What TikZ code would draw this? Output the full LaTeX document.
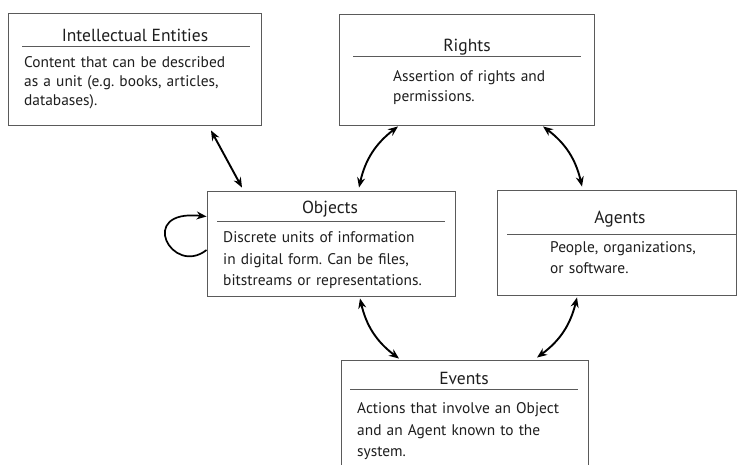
\documentclass[tikz,border=0pt]{standalone}
\usepackage{fontspec}
\setmainfont{PT Sans}
\usetikzlibrary{arrows.meta,calc}
\definecolor{boxc}{HTML}{5A5A5A}
\definecolor{txtc}{HTML}{1E1E1E}
\frenchspacing
\tikzset{
  box/.style={draw=boxc, line width=0.9pt, fill=white, rectangle, inner sep=0pt},
  ttl/.style={anchor=base, inner sep=0pt, text=txtc, font=\fontsize{17.5}{20}\selectfont},
  body/.style={anchor=base west, inner sep=0pt, text=txtc, align=left, text width=240pt},
  sep/.style={draw=boxc, line width=1pt},
  link/.style={line width=1.9pt, {Stealth[length=10pt,width=8pt]}-{Stealth[length=10pt,width=8pt]}},
  loop/.style={line width=1.7pt, -{Stealth[length=10pt,width=8pt]}}
}
\begin{document}
\begin{tikzpicture}[x=1pt,y=1pt]
\useasboundingbox (0,0) rectangle (738,465);
\clip (0,0) rectangle (738,465);
% boxes
\node[box, minimum width=253pt, minimum height=112pt] (ie) at (134.5,396) {};
\node[box, minimum width=255pt, minimum height=111pt] (ri) at (466.5,395.5) {};
\node[box, minimum width=248pt, minimum height=105pt] (ob) at (331,221.5) {};
\node[box, minimum width=239pt, minimum height=105pt] (ag) at (616.5,222.5) {};
\node[box, minimum width=247pt, minimum height=130pt] (ev) at (464.5,40) {};
% titles
\node[ttl] (ieT) at (135,423) {Intellectual Entities};
\node[ttl] (riT) at (467,413) {Rights};
\node[ttl] (obT) at (330,251) {Objects};
\node[ttl] (agT) at (620,241) {Agents};
\node[ttl] (evT) at (464,80) {Events};
% separators
\coordinate (ieL1) at (22,418); \coordinate (ieL2) at (250,418);
\coordinate (riL1) at (353,408); \coordinate (riL2) at (581,408);
\coordinate (obL1) at (217,243); \coordinate (obL2) at (445,243);
\coordinate (agL1) at (507,230); \coordinate (agL2) at (736,230);
\coordinate (evL1) at (350,75); \coordinate (evL2) at (578,75);
\draw[sep] (ieL1) -- (ieL2);
\draw[sep] (riL1) -- (riL2);
\draw[sep] (obL1) -- (obL2);
\draw[sep] (agL1) -- (agL2);
\draw[sep] (evL1) -- (evL2);
% bodies
\node[body, font=\fontsize{15.4}{19}\selectfont] (ieB) at (24,397) {Content that can be described\\as a unit (e.g. books, articles,\\databases).};
\node[body, font=\fontsize{15.4}{20}\selectfont] (riB) at (393,383) {Assertion of rights and\\permissions.};
\node[body, font=\fontsize{15.4}{21.5}\selectfont] (obB) at (223,222) {Discrete units of information\\in digital form. Can be files,\\bitstreams or representations.};
\node[body, font=\fontsize{15.4}{21}\selectfont] (agB) at (550,212) {People, organizations,\\or software.};
\node[body, font=\fontsize{15.4}{21.5}\selectfont] (evB) at (357,51) {Actions that involve an Object\\and an Agent known to the\\system.};
% connectors
\draw[link] ($(ie.south)+(76.5,-5)$) -- ($(ob.north)+(-89,3)$);
\draw[link] ($(ob.north)+(28,3)$) to[bend left=20] ($(ri.south)+(-68.5,-1)$);
\draw[link] ($(ri.south)+(76.5,-1)$) to[bend left=20] ($(ag.north)+(-34.5,3)$);
\draw[link] ($(ob.south)+(29,-2)$) to[bend right=20] ($(ev.north)+(-65.5,1)$);
\draw[link] ($(ag.south)+(-39.5,-2)$) to[bend left=20] ($(ev.north)+(72.5,2)$);
\draw[loop] ($(ob.west)+(0,-6.5)$) .. controls (172,188) and (136,256) .. ($(ob.west)+(0,27)$);
\end{tikzpicture}
\end{document}
